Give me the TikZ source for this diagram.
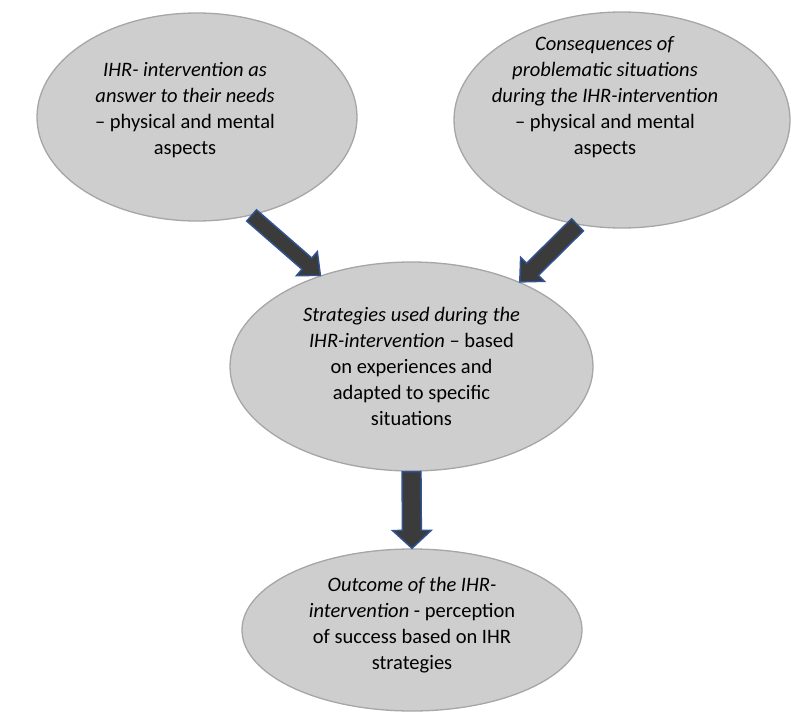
\documentclass[tikz,border=0pt]{standalone}
\usepackage{fontspec}
\setmainfont{Carlito}
\usepackage{tikz}
\usetikzlibrary{calc,positioning,shapes}
\definecolor{ovalgray}{HTML}{CECECE}
\definecolor{ovalline}{HTML}{A6A6A6}
\definecolor{arrowgray}{HTML}{3B3B3B}
\definecolor{arrowblue}{HTML}{2F5597}

% block arrow from #1 (tail) to #2 (tip), half shaft #3, half head #4
\newcommand{\blockarrow}[4]{%
  \coordinate (HB) at ($(#2)!18pt!(#1)$);
  \draw[arrowstyle] ($(#1)!#3!90:(#2)$) -- ($(HB)!#3!-90:(#1)$)
    -- ($(HB)!#4!-90:(#1)$) -- (#2) -- ($(HB)!#4!90:(#1)$)
    -- ($(HB)!#3!90:(#1)$) -- ($(#1)!#3!-90:(#2)$) -- cycle;}

\begin{document}
\begin{tikzpicture}[
        x=1pt, y=-1pt,
        ovalstyle/.style={ellipse, draw=ovalline, line width=1.3pt, fill=ovalgray, inner sep=0pt},
        textstyle/.style={align=center, font=\fontsize{20.5}{26}\selectfont, inner sep=0pt},
        arrowstyle/.style={draw=arrowblue, line width=1.4pt, fill=arrowgray, line join=miter}
      ]
        \useasboundingbox (0,0) rectangle (795,717);

        \node[ovalstyle, minimum width=320pt, minimum height=208pt] (NEEDS)
          at (197,117) {};
        \node[ovalstyle, minimum width=336pt, minimum height=216pt] (PROBLEMS)
          at (622,120) {};
        \node[ovalstyle, minimum width=363pt, minimum height=209pt] (STRATEGIES)
          at (411.5,366.5) {};
        \node[ovalstyle, minimum width=340pt, minimum height=162pt] (OUTCOME)
          at (412,630) {};

        \node[textstyle] (NEEDSTEXT) at (185,110)
          {\textit{IHR- intervention as}\\ \textit{answer to their needs}\\ – physical and mental\\ aspects};
        \node[textstyle] (PROBLEMSTEXT) at (605,97)
          {\textit{Consequences of}\\ \textit{problematic situations}\\ \textit{during the IHR-intervention}\\ – physical and mental\\ aspects};
        \node[textstyle] (STRATEGIESTEXT) at (STRATEGIES.center)
          {\textit{Strategies used during the}\\ \textit{IHR-intervention} – based\\ on experiences and\\ adapted to specific\\ situations};
        \node[textstyle] (OUTCOMETEXT) at ($(OUTCOME.center)+(0,-5)$)
          {\textit{Outcome of the IHR-}\\ \textit{intervention} - perception\\ of success based on IHR\\ strategies};

        \blockarrow{NEEDS.-61}{STRATEGIES.135}{7.5pt}{16pt}
        \blockarrow{PROBLEMS.-113}{STRATEGIES.38}{8.5pt}{17pt}
        \blockarrow{STRATEGIES.south}{OUTCOME.north}{9.5pt}{19.5pt}
      \end{tikzpicture}
\end{document}
